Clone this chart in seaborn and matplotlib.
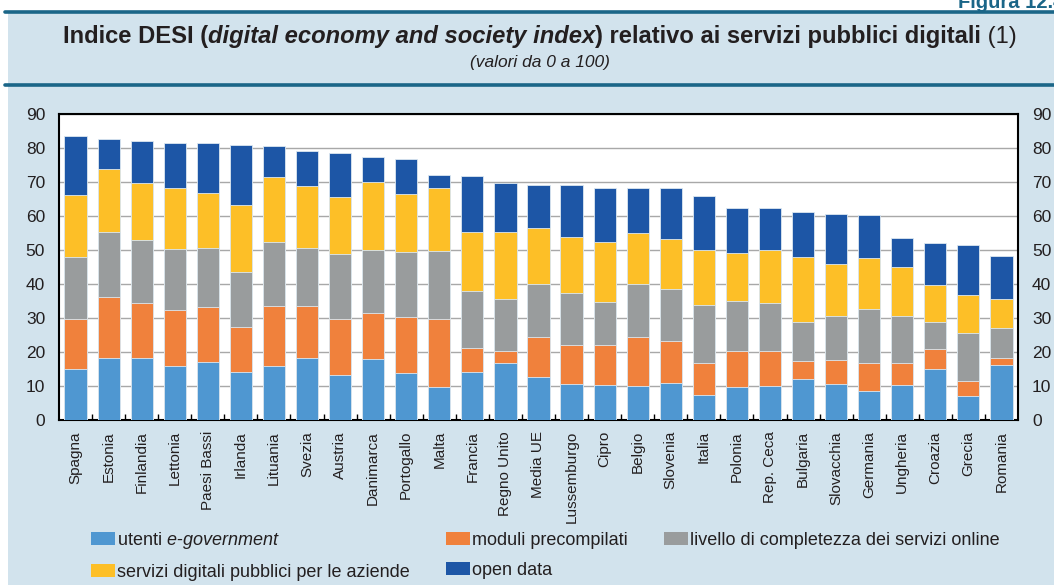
import numpy as np
import pandas as pd
import matplotlib
matplotlib.use("Agg")
import matplotlib.pyplot as plt
import seaborn as sns
from matplotlib.patches import Patch, Rectangle
from matplotlib.lines import Line2D
from matplotlib.ticker import FixedLocator

# ---------------- data ----------------
countries = ["Spagna", "Estonia", "Finlandia", "Lettonia", "Paesi Bassi", "Irlanda",
             "Lituania", "Svezia", "Austria", "Danimarca", "Portogallo", "Malta",
             "Francia", "Regno Unito", "Media UE", "Lussemburgo", "Cipro", "Belgio",
             "Slovenia", "Italia", "Polonia", "Rep. Ceca", "Bulgaria", "Slovacchia",
             "Germania", "Ungheria", "Croazia", "Grecia", "Romania"]

utenti = [14.9, 18.3, 18.1, 16.0, 17.1, 14.1, 16.0, 18.3, 13.3, 17.8, 13.9, 9.8,
          14.1, 16.7, 12.7, 10.7, 10.4, 10.1, 11.0, 7.3, 9.6, 10.1, 12.0, 10.7,
          8.4, 10.4, 14.9, 7.1, 16.2]
moduli = [14.7, 17.8, 16.4, 16.5, 16.1, 13.4, 17.6, 15.3, 16.3, 13.8, 16.3, 20.0,
          7.2, 3.5, 11.6, 11.3, 11.8, 14.4, 12.3, 9.6, 10.8, 10.2, 5.3, 6.9,
          8.3, 6.3, 6.1, 4.5, 2.1]
livello = [18.3, 19.3, 18.5, 17.9, 17.5, 16.0, 18.8, 17.1, 19.1, 18.3, 19.3, 20.0,
           16.7, 15.4, 15.8, 15.5, 12.6, 15.6, 15.3, 17.0, 14.5, 14.2, 11.6, 13.1,
           16.0, 13.9, 7.9, 13.9, 8.9]
servizi = [18.3, 18.4, 16.6, 17.8, 16.2, 19.7, 19.1, 18.2, 16.8, 20.2, 17.0, 18.5,
           17.2, 19.8, 16.3, 16.4, 17.6, 15.0, 14.5, 16.1, 14.3, 15.4, 19.1, 15.1,
           14.9, 14.3, 10.7, 11.3, 8.5]
open_data = [17.4, 8.7, 12.4, 13.4, 14.6, 17.7, 9.2, 10.3, 13.0, 7.3, 10.2, 3.9,
             16.7, 14.2, 12.8, 15.2, 15.9, 13.1, 15.0, 16.0, 13.2, 12.4, 13.1, 14.7,
             12.7, 8.5, 12.4, 14.7, 12.5]

series_names = ["utenti e-government", "moduli precompilati",
                "livello di completezza dei servizi online",
                "servizi digitali pubblici per le aziende", "open data"]
series_values = [utenti, moduli, livello, servizi, open_data]
colors = ["#4f97d1", "#f0813c", "#999c9d", "#fdbf27", "#1d56a6"]
yticks = [0, 10, 20, 30, 40, 50, 60, 70, 80, 90]

# ---------------- style ----------------
sns.set_style("white")
plt.rcParams["font.family"] = ["Liberation Sans", "DejaVu Sans"]
plt.rcParams["mathtext.fontset"] = "custom"
plt.rcParams["mathtext.rm"] = "Liberation Sans"
plt.rcParams["mathtext.it"] = "Liberation Sans:italic"

W, H = 1054, 585
fig = plt.figure(figsize=(W / 100, H / 100), dpi=100)
fig.patch.set_facecolor("white")
BG = "#d2e3ed"
TEAL = "#1b6688"
TXT = "#231f20"

# panel background and rules
fig.add_artist(Rectangle((8 / W, 0), 1 - 8 / W, 1 - 12 / H, transform=fig.transFigure,
                         facecolor=BG, edgecolor="none", zorder=0))
for yy in (12, 85):
    fig.add_artist(Line2D([5 / W, 1], [1 - yy / H, 1 - yy / H], transform=fig.transFigure,
                          color=TEAL, lw=2.6, zorder=1))
fig.text(958 / W, 1 - 8 / H, "Figura 12.4", color=TEAL, fontsize=14.5, fontweight="bold",
         ha="left", va="baseline")

# ---------------- axes ----------------
ax = fig.add_axes([59 / W, 1 - 420 / H, (1018 - 59) / W, (420 - 114) / H])
ax.set_facecolor("white")

df = pd.DataFrame({"paese": countries})
cum = np.zeros(len(countries))
cums = []
for vals in series_values:
    cum = cum + np.array(vals)
    cums.append(cum.copy())
for i in range(len(series_values) - 1, -1, -1):
    df["v"] = cums[i]
    sns.barplot(data=df, x="paese", y="v", order=countries, color=colors[i],
                saturation=1, width=0.67, ax=ax, edgecolor="#dde8f0", linewidth=0.6,
                zorder=3)

ax.set_xlim(-0.5, len(countries) - 0.5)
ax.set_ylim(0, 90)
ax.set_yticks(yticks)
ax.set_yticklabels([str(v) for v in yticks])
ax.set_xlabel("")
ax.set_ylabel("")
ax.yaxis.grid(True, color="#a8a8a8", lw=1.0, zorder=0)
ax.set_axisbelow(True)
for s in ax.spines.values():
    s.set_color("black")
    s.set_linewidth(1.5)
    s.set_visible(True)

ax.tick_params(axis="y", which="both", left=False, right=False, labelleft=True,
               labelright=True, labelsize=12.5, length=0, pad=10, colors=TXT)
ax.tick_params(axis="x", which="major", length=0, labelsize=11, pad=8, colors=TXT,
               labelrotation=90)
ax.xaxis.set_minor_locator(FixedLocator(np.arange(0.5, len(countries) - 1, 1.0)))
ax.tick_params(axis="x", which="minor", direction="in", length=4, width=1, color="black",
               bottom=True)
for lab in ax.get_xticklabels():
    lab.set_va("top")
    lab.set_ha("center")

# ---------------- legend ----------------
handles = [Patch(facecolor=c, edgecolor="none") for c in colors]
labels = [r"utenti $\mathit{e}$-$\mathit{government}$"] + series_names[1:]
order = [0, 3, 1, 4, 2]
leg = fig.legend([handles[i] for i in order], [labels[i] for i in order], ncol=3,
                 loc="upper left", bbox_to_anchor=(91 / W, 1 - 530 / H), frameon=False,
                 fontsize=13, handlelength=1.35, handleheight=0.75, handletextpad=0.1,
                 columnspacing=2.0, labelspacing=0.7, borderaxespad=0, borderpad=0)
for t in leg.get_texts():
    t.set_color(TXT)

# ---------------- title (mixed styles) ----------------
def rich_line(pieces, y_px, cx_px, size, target_w=None):
    renderer = fig.canvas.get_renderer()
    texts = [fig.text(0, 1 - y_px / H, s, fontsize=size, fontweight=w, fontstyle=st,
                      color=TXT, ha="left", va="center") for s, w, st in pieces]
    widths = [t.get_window_extent(renderer).width for t in texts]
    if target_w is not None:
        scale = target_w / sum(widths)
        for t in texts:
            t.set_fontsize(size * scale)
        widths = [t.get_window_extent(renderer).width for t in texts]
    x = cx_px - sum(widths) / 2
    for t, w in zip(texts, widths):
        t.set_x(x / W)
        x += w

rich_line([("Indice DESI (", "bold", "normal"),
           ("digital economy and society index", "bold", "italic"),
           (") relativo ai servizi pubblici digitali", "bold", "normal"),
           (" (1)", "normal", "normal")], 37, 540, 14, target_w=955)
rich_line([("(valori da 0 a 100)", "normal", "italic")], 63, 540, 12.5)

fig.savefig("out.png", dpi=100, facecolor=fig.get_facecolor())
